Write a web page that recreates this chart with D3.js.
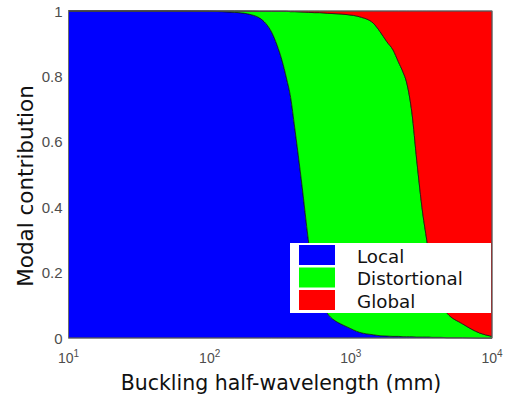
<!DOCTYPE html>
<html><head><meta charset="utf-8">
<script src="https://cdn.jsdelivr.net/npm/d3@7"></script>
<style>html,body{margin:0;padding:0;background:#fff;}svg{display:block;}</style>
</head><body>
<svg id="chart" width="506" height="400"></svg>
<script>
// Buckling half-wavelengths (mm)
const wavelengths       = [10, 50, 100, 150, 200, 225, 250, 275, 300, 325, 350, 375, 400, 450, 500, 550, 600, 680, 760, 840, 940, 1160, 1440, 1610, 1800, 1990, 2170, 2344, 2480, 2600, 2710, 2930, 3230, 3450, 3580, 3760, 4000, 4350, 4800, 6200, 8200, 10000];
const localShare        = [1, 1, 0.999, 0.996, 0.988, 0.979, 0.962, 0.935, 0.896, 0.85, 0.795, 0.735, 0.645, 0.47, 0.30, 0.17, 0.12, 0.076, 0.055, 0.044, 0.034, 0.017, 0.01, 0.007, 0.006, 0.005, 0.005, 0.004, 0.004, 0.004, 0.004, 0.003, 0.003, 0.003, 0.003, 0.002, 0.002, 0.002, 0.001, 0.001, 0, 0];
const distortionalShare = [0, 0, 0.001, 0.004, 0.0115, 0.020, 0.037, 0.064, 0.103, 0.149, 0.204, 0.263, 0.353, 0.527, 0.696, 0.825, 0.875, 0.917, 0.937, 0.947, 0.955, 0.965, 0.953, 0.930, 0.900, 0.876, 0.840, 0.809, 0.779, 0.736, 0.684, 0.541, 0.379, 0.297, 0.251, 0.191, 0.139, 0.099, 0.075, 0.042, 0.015, 0.005];
const globalShare       = [0, 0, 0, 0, 0.0005, 0.001, 0.001, 0.001, 0.001, 0.001, 0.001, 0.002, 0.002, 0.003, 0.004, 0.005, 0.005, 0.007, 0.008, 0.009, 0.011, 0.018, 0.037, 0.063, 0.094, 0.119, 0.155, 0.187, 0.217, 0.260, 0.312, 0.456, 0.618, 0.70, 0.746, 0.807, 0.859, 0.899, 0.924, 0.957, 0.985, 0.995];
const seriesNames = ["Local", "Distortional", "Global"];
const seriesColors = ["#0000ff", "#00ff00", "#ff0000"];
const xTickExps = [1, 2, 3, 4];
const yTicks = [0, 0.2, 0.4, 0.6, 0.8, 1];

const svg = d3.select("#chart");
const pL = 68.5, pR = 492, pT = 11, pB = 338;

const x = d3.scaleLog().domain([10, 10000]).range([pL, pR]);
const y = d3.scaleLinear().domain([0, 1]).range([pB, pT]);

const rows = wavelengths.map((w, i) => ({L: w, Local: localShare[i], Distortional: distortionalShare[i], Global: globalShare[i]}));
const stacked = d3.stack().keys(seriesNames)(rows);

const area = d3.area()
  .x(d => x(d.data.L))
  .y0(d => y(Math.min(1, d[0])))
  .y1(d => y(Math.min(1, d[1])))
  .curve(d3.curveMonotoneX);

svg.append("g").selectAll("path").data(stacked).join("path")
  .attr("d", area)
  .attr("fill", (d, i) => seriesColors[i])
  .attr("stroke", "#111")
  .attr("stroke-width", 0.7);

// axes box
svg.append("rect").attr("x", pL).attr("y", pT).attr("width", pR - pL).attr("height", pB - pT)
  .attr("fill", "none").attr("stroke", "#6e6e6e").attr("stroke-width", 1);

// y tick labels
svg.append("g").selectAll("text").data(yTicks).join("text")
  .attr("x", pL - 6).attr("y", d => y(d) + 5.5)
  .attr("text-anchor", "end")
  .attr("font-family", "Liberation Sans, Arial, sans-serif")
  .attr("font-size", 15).attr("fill", "#4d4d4d")
  .text(d => d === 0 || d === 1 ? String(d) : d.toFixed(1));

// x tick labels 10^n
const xt = svg.append("g").selectAll("text").data(xTickExps).join("text")
  .attr("x", d => x(Math.pow(10, d)))
  .attr("y", 363)
  .attr("text-anchor", "middle")
  .attr("font-family", "Liberation Sans, Arial, sans-serif")
  .attr("font-size", 14).attr("fill", "#4d4d4d");
xt.append("tspan").text("10");
xt.append("tspan").attr("dy", -6).attr("font-size", 10).text(d => d);

// axis labels
svg.append("text").attr("x", 281).attr("y", 390)
  .attr("text-anchor", "middle")
  .attr("font-family", "DejaVu Sans, Verdana, sans-serif")
  .attr("font-size", 20.5).attr("fill", "#111")
  .text("Buckling half-wavelength (mm)");

svg.append("text")
  .attr("transform", "translate(33,186) rotate(-90)")
  .attr("text-anchor", "middle")
  .attr("font-family", "DejaVu Sans, Verdana, sans-serif")
  .attr("font-size", 21.5).attr("fill", "#111")
  .text("Modal contribution");

// legend
const lg = svg.append("g");
lg.append("rect").attr("x", 290).attr("y", 243).attr("width", 201).attr("height", 70).attr("fill", "#fff");
seriesNames.forEach((name, i) => {
  const yy = 245 + i * 22.5;
  lg.append("rect").attr("x", 299).attr("y", yy).attr("width", 36).attr("height", 20).attr("fill", seriesColors[i]);
  lg.append("text").attr("x", 357).attr("y", yy + 17.5)
    .attr("font-family", "DejaVu Sans, Verdana, sans-serif")
    .attr("font-size", 18.3).attr("fill", "#111").text(name);
});
</script>
</body></html>
